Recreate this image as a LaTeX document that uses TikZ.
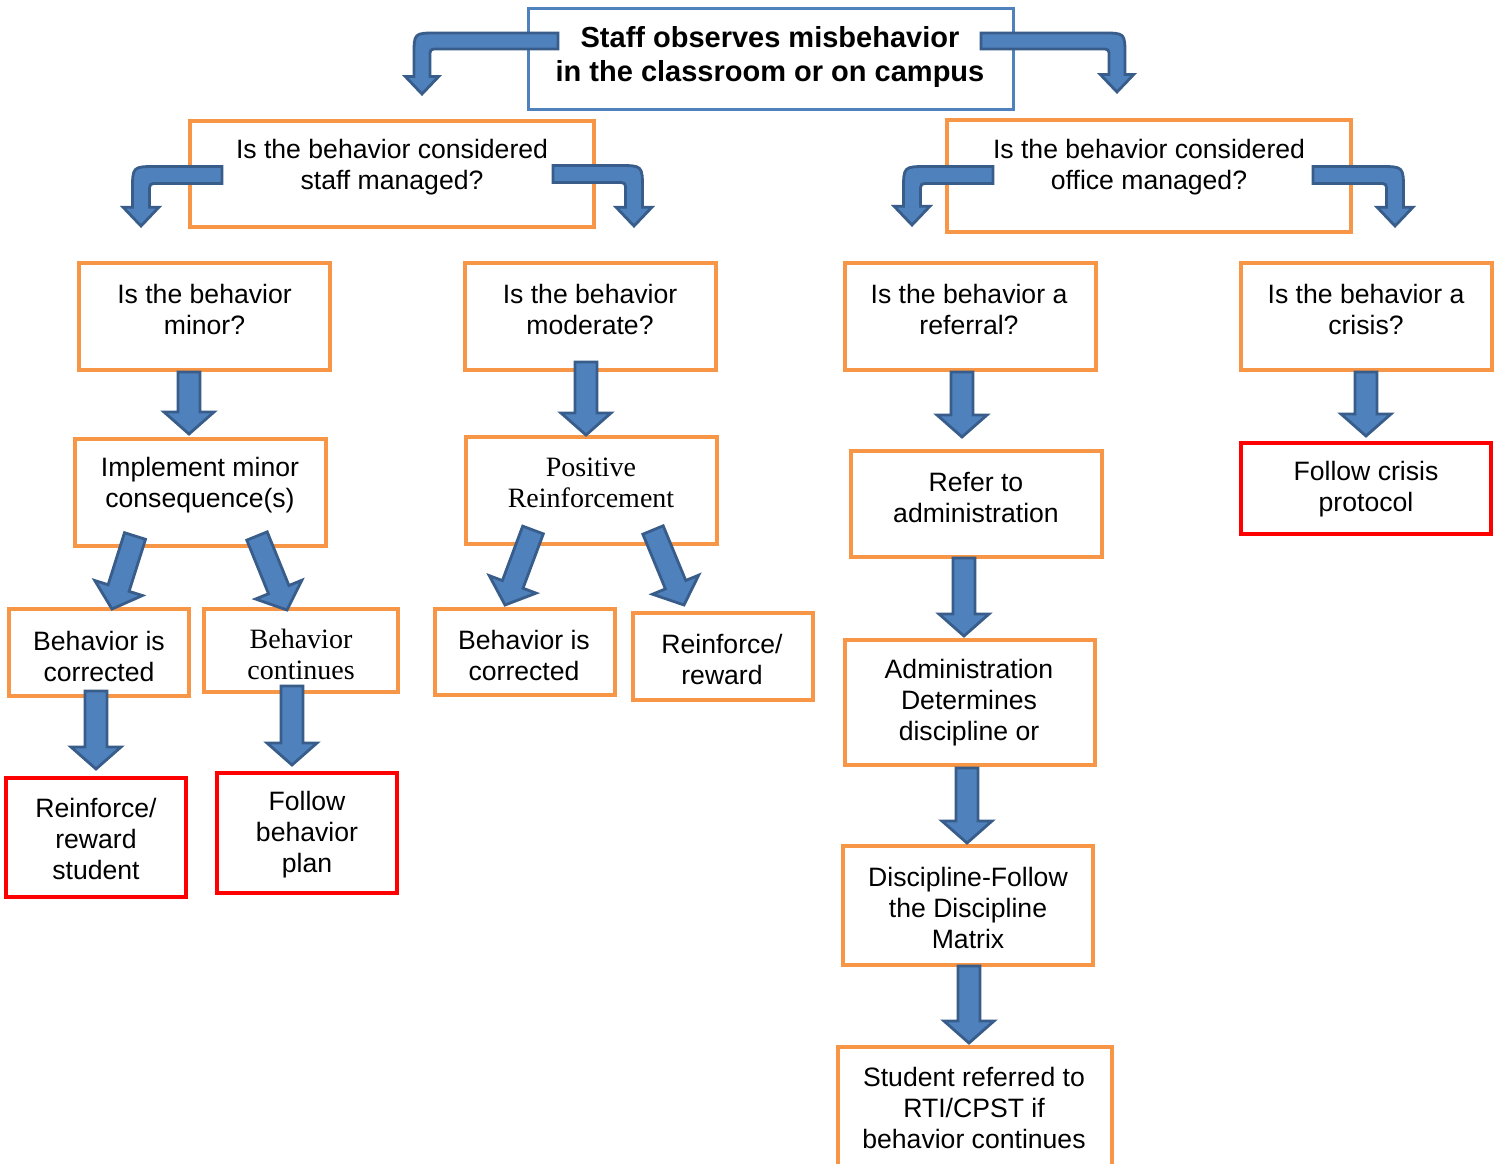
\documentclass[tikz,border=0pt]{standalone}
\usepackage{fontspec}
\setmainfont{Liberation Sans}
\newfontfamily\seriffont{Liberation Serif}
\usetikzlibrary{calc,fit}
\definecolor{orng}{HTML}{F79646}
\definecolor{afill}{HTML}{4F81BD}
\definecolor{adraw}{HTML}{385D8A}
\definecolor{topblue}{HTML}{4F81BD}
\definecolor{rboxc}{HTML}{FF0000}
\newcommand{\blockarrow}[2]{%
  \coordinate (bahead) at ($(#2)!11pt!(#1)$);
  \draw[arr] ($(#1)!5.5pt!90:(#2)$) -- ($(bahead)!5.5pt!90:(#2)$) -- ($(bahead)!12.5pt!90:(#2)$) -- (#2) -- ($(bahead)!12.5pt!-90:(#2)$) -- ($(bahead)!5.5pt!-90:(#2)$) -- ($(#1)!5.5pt!-90:(#2)$) -- cycle;}
\newcommand{\bentarrow}[5]{%
  \begin{scope}[shift={(#1)}, xscale=#5]
  \draw[arr] (0,-#4) -- ({-#2-#4+2.8*#4},-#4) .. controls ({-#2-#4},-#4) .. ({-#2-#4},{-#4+2.8*#4}) -- ({-#2-#4},{#3-2.2*#4}) -- ({-#2-2.1*#4},{#3-2.2*#4}) -- (-#2,#3) -- ({-#2+2.1*#4},{#3-2.2*#4}) -- ({-#2+#4},{#3-2.2*#4}) -- ({-#2+#4},{2*#4}) .. controls ({-#2+#4},#4) .. ({-#2+2*#4},#4) -- (0,#4) -- cycle;
  \end{scope}}
\begin{document}
\begin{tikzpicture}[x=0.5pt,y=-0.5pt,
  obox/.style={draw=orng, line width=2pt, inner sep=0pt},
  rbox/.style={draw=rboxc, line width=2pt, inner sep=0pt},
  bbox/.style={draw=topblue, line width=1.5pt, inner sep=0pt},
  txt/.style={align=center, font=\fontsize{13.3}{15.5}\selectfont, inner sep=0pt, yshift=-1.5pt},
  stxt/.style={align=center, font=\seriffont\fontsize{14}{15.5}\selectfont, inner sep=0pt},
  btxt/.style={align=center, font=\bfseries\fontsize{14.5}{17}\selectfont, inner sep=0pt, yshift=-1.5pt},
  arr/.style={fill=afill, draw=adraw, line width=1.4pt, line join=miter}]
\useasboundingbox (0,0) rectangle (1500,1163);
\clip (0,0) rectangle (1500,1163);
\fill[white] (0,0) rectangle (1500,1163);
% boxes
\node[bbox, fit={(528,8) (1013,109)}] (top) {};
\node[obox, fit={(190,121) (594,227)}] (staff) {};
\node[obox, fit={(947,120) (1351,232)}] (office) {};
\node[obox, fit={(79,263) (330,370)}] (minor) {};
\node[obox, fit={(465,263) (716,370)}] (moderate) {};
\node[obox, fit={(845,263) (1096,370)}] (referral) {};
\node[obox, fit={(1241,263) (1492,370)}] (crisis) {};
\node[obox, fit={(75,439) (326,546)}] (implement) {};
\node[obox, fit={(466,437) (717,544)}] (positive) {};
\node[obox, fit={(851,451) (1102,557)}] (referadmin) {};
\node[rbox, fit={(1241,443) (1491,534)}] (protocol) {};
\node[obox, fit={(9,609) (189,696)}] (correctedL) {};
\node[obox, fit={(204,609) (398,692)}] (continues) {};
\node[obox, fit={(435,609) (615,695)}] (correctedM) {};
\node[obox, fit={(633,613) (813,700)}] (reward) {};
\node[obox, fit={(845,640) (1095,765)}] (determines) {};
\node[obox, fit={(843,846) (1093,965)}] (matrix) {};
\node[obox, fit={(838,1047) (1112,1175)}] (rti) {};
\node[rbox, fit={(6,778) (186,897)}] (rewardstudent) {};
\node[rbox, fit={(217,773) (397,893)}] (plan) {};
% texts
\node[btxt] (top-t) at (770,54) {Staff observes misbehavior\\in the classroom or on campus};
\node[txt] (staff-t) at (392,164.5) {Is the behavior considered\\staff managed?};
\node[txt] (office-t) at (1149,164) {Is the behavior considered\\office managed?};
\node[txt] (minor-t) at (204.5,306.5) {Is the behavior\\minor?};
\node[txt] (moderate-t) at (590,306.5) {Is the behavior\\moderate?};
\node[txt] (referral-t) at (969,306.5) {Is the behavior a\\referral?};
\node[txt] (crisis-t) at (1366,306.5) {Is the behavior a\\crisis?};
\node[txt] (implement-t) at (200,482.5) {Implement minor\\consequence(s)};
\node[stxt] (positive-t) at (591,482.5) {Positive\\Reinforcement};
\node[txt] (referadmin-t) at (976,494.5) {Refer to\\administration};
\node[txt] (protocol-t) at (1366,486.5) {Follow crisis\\protocol};
\node[txt] (correctedL-t) at (99,653) {Behavior is\\corrected};
\node[stxt] (continues-t) at (301,654) {Behavior\\continues};
\node[txt] (correctedM-t) at (524,652) {Behavior is\\corrected};
\node[txt] (reward-t) at (722,656.5) {Reinforce/\\reward};
\begin{scope}
\clip (849,644) rectangle (1091,750);
\node[txt] (determines-t) at (969,715) {Administration\\Determines\\discipline or\\guidance};
\end{scope}
\node[txt] (matrix-t) at (968,904.5) {Discipline-Follow\\the Discipline\\Matrix};
\node[txt] (rti-t) at (974,1105) {Student referred to\\RTI/CPST if\\behavior continues};
\node[txt] (rewardstudent-t) at (96,836) {Reinforce/\\reward\\student};
\node[txt] (plan-t) at (307,831.5) {Follow\\behavior\\plan};
% bent arrows
\coordinate (tl) at (558,41);
\coordinate (tr) at (981,41);
\coordinate (sl) at (222,175);
\coordinate (sr) at (553,174);
\coordinate (ol) at (993,175);
\coordinate (or) at (1313,175);
\bentarrow{tl}{136}{53}{8}{1}
\bentarrow{tr}{136}{51}{8}{-1}
\bentarrow{sl}{81}{51}{8.5}{1}
\bentarrow{sr}{81}{52}{8.5}{-1}
\bentarrow{ol}{81}{50}{8.5}{1}
\bentarrow{or}{82}{51}{8.5}{-1}
% straight arrows
\coordinate (a1s) at (189,372); \coordinate (a1e) at (189,434);
\coordinate (a2s) at (586,362); \coordinate (a2e) at (586,435);
\coordinate (a3s) at (962,372); \coordinate (a3e) at (962,437);
\coordinate (a4s) at (1366,372); \coordinate (a4e) at (1366,436);
\coordinate (a5s) at (964,558); \coordinate (a5e) at (964,636);
\coordinate (a6s) at (967,768); \coordinate (a6e) at (967,843);
\coordinate (a7s) at (969,966); \coordinate (a7e) at (969,1043);
\coordinate (a8s) at (96,691); \coordinate (a8e) at (96,769);
\coordinate (a9s) at (292,686); \coordinate (a9e) at (292,765);
\coordinate (d1s) at (135,536); \coordinate (d1e) at (112,609);
\coordinate (d2s) at (257,536); \coordinate (d2e) at (287,610);
\coordinate (d3s) at (533,530); \coordinate (d3e) at (505,605);
\coordinate (d4s) at (653,530); \coordinate (d4e) at (684,605);
\blockarrow{a1s}{a1e}
\blockarrow{a2s}{a2e}
\blockarrow{a3s}{a3e}
\blockarrow{a4s}{a4e}
\blockarrow{a5s}{a5e}
\blockarrow{a6s}{a6e}
\blockarrow{a7s}{a7e}
\blockarrow{a8s}{a8e}
\blockarrow{a9s}{a9e}
\blockarrow{d1s}{d1e}
\blockarrow{d2s}{d2e}
\blockarrow{d3s}{d3e}
\blockarrow{d4s}{d4e}
\end{tikzpicture}
\end{document}
